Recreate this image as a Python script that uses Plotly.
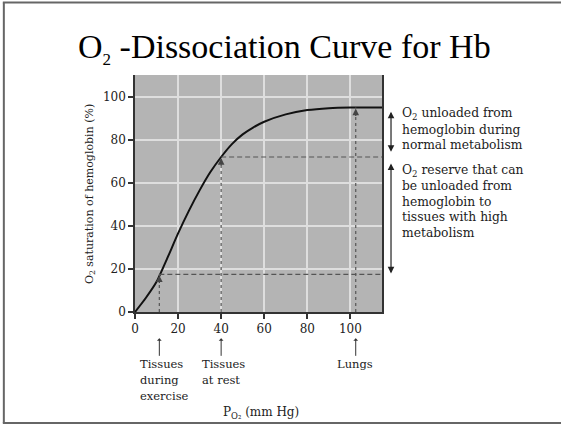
import plotly.graph_objects as go

# ---- data ----
po2 = [0, 5, 10, 15, 20, 25, 30, 35, 40, 45, 50, 55, 60, 70, 80, 90, 100, 114.7]
saturation = [0, 6.5, 14, 25, 36.5, 47, 56.5, 65, 72, 78, 82.5, 85.8, 88.4, 91.8, 93.8, 94.7, 95, 95]

site_names = ["Tissues during exercise", "Tissues at rest", "Lungs"]
site_po2 = [11.3, 40, 102.5]
site_sat = [17.5, 72, 95]
site_label_lines = [["Tissues", "during", "exercise"], ["Tissues", "at rest"], ["Lungs"]]

x_ticks = [0, 20, 40, 60, 80, 100]
y_ticks = [0, 20, 40, 60, 80, 100]
x_max = 114.7
y_max = 110.1

# ranges (in % saturation) spanned by the two double-headed arrows on the right
unload_range = [93.8, 74.4]
reserve_range = [69.8, 17.9]

note1_lines = ["O<sub>2</sub> unloaded from", "hemoglobin during", "normal metabolism"]
note2_lines = ["O<sub>2</sub> reserve that can", "be unloaded from", "hemoglobin to", "tissues with high", "metabolism"]

title_text = "O<sub><span style='font-size:17px'>2</span></sub> -Dissociation Curve for Hb"
ytitle_text = "O<sub>2</sub> saturation of hemoglobin (%)"
xtitle_text = "P<sub>O₂</sub> (mm Hg)"

# ---- layout geometry (pixels) ----
W_FIG, H_FIG = 561, 424
L, R, T, B = 135, 381.7, 75, 311.7
PW, PH = R - L, B - T
Y_SCALE = PH / y_max


def px(xp):
    return (xp - L) / PW


def py(yp):
    return (B - yp) / PH


SERIF = "DejaVu Serif"
TXT = "#222222"
DASH_COL = "#555555"

fig = go.Figure()

# curve
fig.add_trace(go.Scatter(x=po2, y=saturation, mode="lines",
                         line=dict(color="#111111", width=2, shape="spline", smoothing=0.6),
                         hoverinfo="skip", showlegend=False))

# dashed guide lines
for xs, ys in zip(site_po2, site_sat):
    fig.add_trace(go.Scatter(x=[xs, xs], y=[0, ys], mode="lines",
                             line=dict(color=DASH_COL, width=1.2, dash="3px,3px"),
                             hoverinfo="skip", showlegend=False))
for xs, ys in zip(site_po2[:2], site_sat[:2]):
    fig.add_trace(go.Scatter(x=[xs, x_max], y=[ys, ys], mode="lines",
                             line=dict(color=DASH_COL, width=1.2, dash="5px,3px"),
                             hoverinfo="skip", showlegend=False))

annotations = []

# arrowheads on dashed verticals
for xs, ys in zip(site_po2, site_sat):
    annotations.append(dict(x=xs, y=ys - 0.5, xref="x", yref="y", ax=0, ay=9,
                            showarrow=True, arrowhead=2, arrowsize=1.1, arrowwidth=1.2,
                            arrowcolor="#444444", text=""))

# small arrows + labels under the x-axis
for xs, lines in zip(site_po2, site_label_lines):
    annotations.append(dict(x=xs, y=py(338), xref="x", yref="paper", ax=0, ay=19,
                            showarrow=True, arrowhead=1, arrowsize=0.8, arrowwidth=1,
                            arrowcolor="#333333", text=""))
    x_left = L + xs * PW / x_max - 21
    for i, ln in enumerate(lines):
        annotations.append(dict(x=px(x_left), y=py(364 + 16 * i), xref="paper", yref="paper",
                                text=ln, showarrow=False, xanchor="left", yanchor="middle",
                                font=dict(family=SERIF, size=11.5, color=TXT)))

# right-side double arrows
for y0, y1 in [unload_range, reserve_range]:
    annotations.append(dict(x=px(390.7), y=y1, xref="paper", yref="y",
                            axref="pixel", ayref="pixel", ax=0, ay=-(y0 - y1) * Y_SCALE,
                            showarrow=True, arrowhead=2, arrowside="end+start",
                            arrowsize=1.1, arrowwidth=1.2, arrowcolor="#222222", text=""))

for block, y_first in [(note1_lines, 114.3), (note2_lines, 170.7)]:
    for i, ln in enumerate(block):
        annotations.append(dict(x=px(400), y=py(y_first + 15.5 * i), xref="paper", yref="paper",
                                text=ln, showarrow=False, xanchor="left", yanchor="middle",
                                font=dict(family=SERIF, size=12.3, color=TXT)))

# title
annotations.append(dict(x=px(284), y=py(49), xref="paper", yref="paper", text=title_text,
                        showarrow=False, xanchor="center", yanchor="middle",
                        font=dict(family="Liberation Serif", size=34, color="#000000")))
# axis titles
annotations.append(dict(x=px(90), y=py(194), xref="paper", yref="paper", text=ytitle_text,
                        showarrow=False, xanchor="center", yanchor="middle", textangle=-90,
                        font=dict(family=SERIF, size=11, color=TXT)))
annotations.append(dict(x=px(261), y=py(413), xref="paper", yref="paper", text=xtitle_text,
                        showarrow=False, xanchor="center", yanchor="middle",
                        font=dict(family=SERIF, size=12, color=TXT)))

# outer frame
shapes = [
    dict(type="line", xref="paper", yref="paper", x0=px(4), x1=px(4), y0=py(2.5), y1=py(422.5),
         line=dict(color="#666666", width=2)),
    dict(type="line", xref="paper", yref="paper", x0=px(3), x1=px(562), y0=py(2.5), y1=py(2.5),
         line=dict(color="#666666", width=2)),
    dict(type="line", xref="paper", yref="paper", x0=px(3), x1=px(562), y0=py(422.5), y1=py(422.5),
         line=dict(color="#666666", width=2)),
]

fig.update_layout(
    width=W_FIG, height=H_FIG, autosize=False,
    margin=dict(l=L, r=W_FIG - R, t=T, b=H_FIG - B, pad=0),
    paper_bgcolor="white", plot_bgcolor="#b4b4b4",
    showlegend=False,
    annotations=annotations, shapes=shapes,
    xaxis=dict(range=[0, x_max], tickvals=x_ticks, ticks="outside", ticklen=5, tickwidth=1.5,
               tickcolor="#333333", showline=True, linecolor="#333333", linewidth=1.5,
               showgrid=True, gridcolor="#dedede", gridwidth=1.5, zeroline=False,
               tickfont=dict(family=SERIF, size=12, color=TXT)),
    yaxis=dict(range=[0, y_max], tickvals=y_ticks, ticks="outside", ticklen=5, tickwidth=1.5,
               tickcolor="#333333", showline=True, linecolor="#333333", linewidth=1.5, mirror=True,
               showgrid=True, gridcolor="#dedede", gridwidth=1.5, zeroline=False,
               tickfont=dict(family=SERIF, size=12, color=TXT)),
)

fig.write_html("out.html", config={"displayModeBar": False},
               post_script="document.body.style.margin='0';document.body.style.overflow='hidden';")
